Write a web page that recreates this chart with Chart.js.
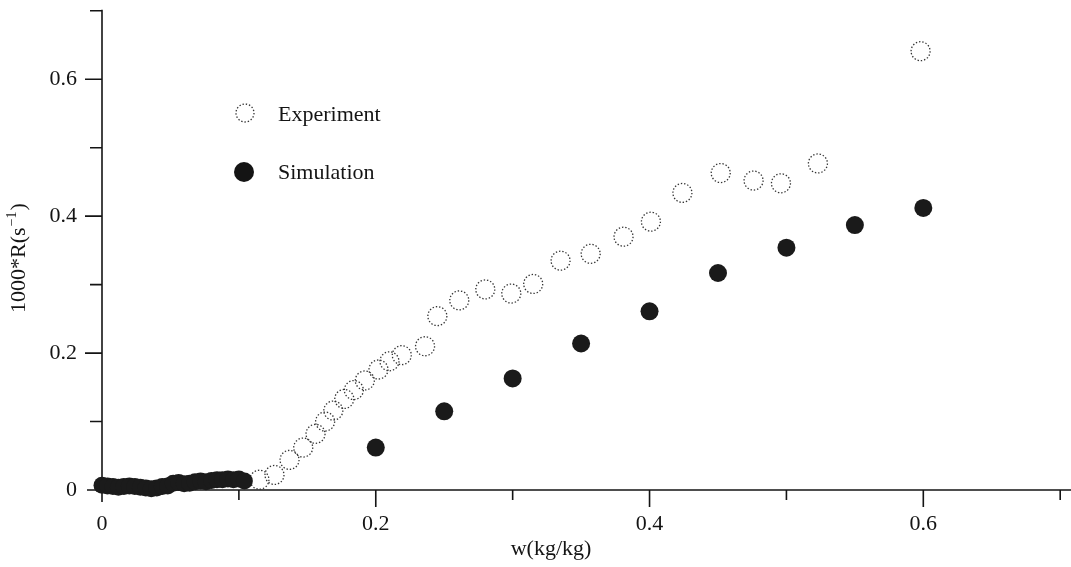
<!DOCTYPE html>
<html>
<head>
<meta charset="utf-8">
<script src="https://cdn.jsdelivr.net/npm/chart.js@4"></script>
<style>
  html, body { margin: 0; padding: 0; background: #ffffff; }
  #wrap { width: 1071px; height: 567px; }
</style>
</head>
<body>
<div id="wrap"><canvas id="grafik" width="1071" height="567"></canvas></div>
<script>
// dense low-moisture measurements (0 .. 0.1), markers overlap into a solid band
const blobW = [0.000, 0.004, 0.008, 0.012, 0.016, 0.020, 0.024, 0.028, 0.032, 0.036, 0.040, 0.044, 0.048, 0.052,
               0.056, 0.060, 0.064, 0.068, 0.072, 0.076, 0.080, 0.084, 0.088, 0.092, 0.096, 0.100, 0.104];
const blobR = [0.007, 0.006, 0.005, 0.004, 0.005, 0.006, 0.005, 0.004, 0.003, 0.002, 0.003, 0.005, 0.006, 0.010,
               0.011, 0.009, 0.010, 0.012, 0.013, 0.012, 0.014, 0.015, 0.015, 0.016, 0.015, 0.016, 0.013];

// experiment
const expW = [0.115, 0.126, 0.137, 0.147, 0.156, 0.163, 0.169, 0.177, 0.184, 0.192, 0.202, 0.210, 0.219, 0.236,
              0.245, 0.261, 0.280, 0.299, 0.315, 0.335, 0.357, 0.381, 0.401, 0.424, 0.452, 0.476, 0.496, 0.523, 0.598];
const expR = [0.015, 0.022, 0.044, 0.062, 0.082, 0.100, 0.116, 0.133, 0.146, 0.160, 0.176, 0.188, 0.197, 0.210,
              0.254, 0.277, 0.293, 0.287, 0.301, 0.335, 0.345, 0.370, 0.392, 0.434, 0.463, 0.452, 0.448, 0.477, 0.641];

// simulation
const simW = [0.20, 0.25, 0.30, 0.35, 0.40, 0.45, 0.50, 0.55, 0.60];
const simR = [0.062, 0.115, 0.163, 0.214, 0.261, 0.317, 0.354, 0.387, 0.412];

// axis ticks
const xMajor = [0, 0.2, 0.4, 0.6];
const xMinor = [0.1, 0.3, 0.5, 0.7];
const yMajor = [0, 0.2, 0.4, 0.6];
const yMinor = [0.1, 0.3, 0.5, 0.7];

const legendLabels = ["Experiment", "Simulation"];
const xTitle = "w(kg/kg)";

const SERIF = "'Liberation Serif', 'Times New Roman', serif";
const INK = "#141414";

const pts = (xs, ys) => xs.map((x, i) => ({ x, y: ys[i] }));

// dotted circle for the experiment markers
function dotted(ctx) { ctx.setLineDash([1.4, 1.9]); }

const eksenler = {
  id: "eksenler",
  beforeDatasetsDraw(chart) {
    const { ctx, scales: { x, y } } = chart;
    const x0 = x.getPixelForValue(0), y0 = y.getPixelForValue(0);
    ctx.save();
    ctx.strokeStyle = INK;
    ctx.lineWidth = 1.6;
    ctx.beginPath();
    // axis lines
    ctx.moveTo(x0 - 15, y0); ctx.lineTo(chart.width, y0);
    ctx.moveTo(x0, y0); ctx.lineTo(x0, y.getPixelForValue(0.7) - 1);
    // x ticks (downward)
    xMajor.forEach(v => {
      const p = x.getPixelForValue(v);
      ctx.moveTo(p, y0); ctx.lineTo(p, y0 + (v === 0 ? 12 : 17));
    });
    xMinor.forEach(v => {
      const p = Math.min(x.getPixelForValue(v), chart.width - 2);
      ctx.moveTo(p, y0); ctx.lineTo(p, y0 + 10);
    });
    // y ticks (leftward)
    yMajor.forEach(v => {
      if (v === 0) return;
      const p = y.getPixelForValue(v);
      ctx.moveTo(x0, p); ctx.lineTo(x0 - 17, p);
    });
    yMinor.forEach(v => {
      const p = y.getPixelForValue(v);
      ctx.moveTo(x0, p); ctx.lineTo(x0 - 12, p);
    });
    ctx.stroke();
    ctx.restore();
  },
  beforeDatasetDraw(chart, args) {
    if (args.index === 1) dotted(chart.ctx);
  },
  afterDatasetDraw(chart, args) {
    if (args.index === 1) chart.ctx.setLineDash([]);
  },
  afterDraw(chart) {
    const ctx = chart.ctx;
    ctx.save();
    ctx.fillStyle = INK;
    ctx.textBaseline = "middle";

    // legend
    ctx.strokeStyle = "#333";
    ctx.lineWidth = 1.3;
    dotted(ctx);
    ctx.beginPath(); ctx.arc(245, 113, 9, 0, Math.PI * 2); ctx.stroke();
    ctx.setLineDash([]);
    ctx.beginPath(); ctx.arc(244, 172, 10, 0, Math.PI * 2); ctx.fill();
    ctx.font = "22px " + SERIF;
    ctx.textAlign = "left";
    ctx.fillText(legendLabels[0], 278, 115);
    ctx.fillText(legendLabels[1], 278, 173);

    // x title
    ctx.textAlign = "center";
    ctx.fillText(xTitle, 551, 549);

    // y title, rotated, with superscript
    ctx.translate(19, 258);
    ctx.rotate(-Math.PI / 2);
    ctx.textAlign = "left";
    const ana = "1000*R(s", ust = "\u22121", son = ")";
    ctx.font = "22px " + SERIF;
    const w1 = ctx.measureText(ana).width, w3 = ctx.measureText(son).width;
    ctx.font = "14px " + SERIF;
    const w2 = ctx.measureText(ust).width;
    let u = -(w1 + w2 + w3 + 2) / 2;
    ctx.font = "22px " + SERIF;
    ctx.fillText(ana, u, 0); u += w1 + 1;
    ctx.font = "14px " + SERIF;
    ctx.fillText(ust, u, -7); u += w2 + 1;
    ctx.font = "22px " + SERIF;
    ctx.fillText(son, u, 0);
    ctx.restore();
  }
};

const ekseneOlcu = (v) => ({ value: v });

new Chart(document.getElementById("grafik"), {
  type: "scatter",
  data: {
    datasets: [
      {
        label: "blob",
        data: pts(blobW, blobR),
        pointRadius: 8.5,
        pointBorderWidth: 0,
        backgroundColor: "#1b1b1b",
        borderColor: "#1b1b1b",
        clip: false
      },
      {
        label: legendLabels[0],
        data: pts(expW, expR),
        pointRadius: 9.5,
        pointBorderWidth: 1.3,
        backgroundColor: "rgba(0,0,0,0)",
        borderColor: "#333",
        clip: false
      },
      {
        label: legendLabels[1],
        data: pts(simW, simR),
        pointRadius: 9,
        pointBorderWidth: 0,
        backgroundColor: "#1a1a1a",
        borderColor: "#1a1a1a",
        clip: false
      }
    ]
  },
  options: {
    responsive: false,
    animation: false,
    devicePixelRatio: 1,
    layout: { padding: { top: 8, right: 1, left: 0, bottom: 0 } },
    plugins: { legend: { display: false }, tooltip: { enabled: false } },
    scales: {
      x: {
        type: "linear",
        min: 0,
        max: 0.7,
        grid: { display: false, drawTicks: false },
        border: { display: false },
        afterBuildTicks: s => { s.ticks = xMajor.map(ekseneOlcu); },
        afterFit: s => { s.height = 77; s.paddingLeft = 0; s.paddingRight = 0; },
        ticks: {
          autoSkip: false,
          maxRotation: 0,
          padding: 21,
          color: INK,
          font: { family: SERIF, size: 22 },
          callback: v => String(v)
        }
      },
      y: {
        type: "linear",
        min: 0,
        max: 0.7,
        grid: { display: false, drawTicks: false },
        border: { display: false },
        afterBuildTicks: s => { s.ticks = yMajor.map(ekseneOlcu); },
        afterFit: s => { s.width = 102; s.paddingTop = 0; s.paddingBottom = 0; },
        ticks: {
          autoSkip: false,
          padding: 25,
          color: INK,
          font: { family: SERIF, size: 22 },
          callback: v => String(v)
        }
      }
    }
  },
  plugins: [eksenler]
});
</script>
</body>
</html>
